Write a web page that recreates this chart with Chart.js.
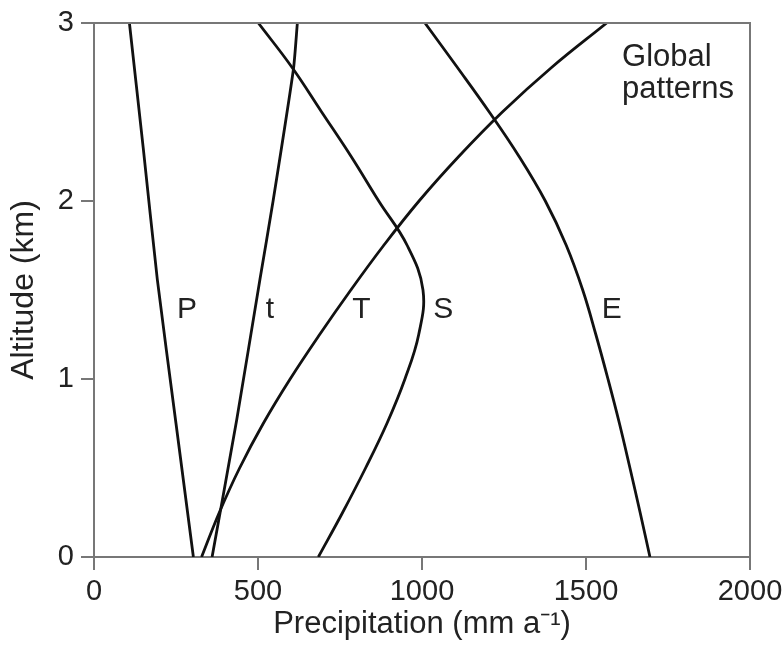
<!DOCTYPE html>
<html>
<head>
<meta charset="utf-8">
<script src="https://cdn.jsdelivr.net/npm/chart.js@4/dist/chart.umd.min.js"></script>
<style>
  html, body { margin: 0; padding: 0; background: #fff; }
  #wrap { width: 783px; height: 652px; }
</style>
</head>
<body>
<div id="wrap"><canvas id="c" width="783" height="652"></canvas></div>
<script>
// ---- Data (precipitation in mm/a, altitude in km) ----
const altP = [0, 0.75, 1.56, 2.3, 3];
const precipP = [303, 250, 193, 150, 108];

const altt = [0, 0.77, 1.56, 2, 2.74, 3];
const precipt = [360, 435, 506, 546, 608, 620];

const altT = [0, 0.25, 0.5, 0.75, 1, 1.25, 1.5, 1.75, 2, 2.25, 2.5, 2.75, 3];
const precipT = [328, 382, 444, 516, 598, 688, 783, 883, 991, 1112, 1245, 1395, 1563];

const altS = [0, 0.25, 0.5, 0.75, 1, 1.25, 1.5, 1.75, 2, 2.25, 2.5, 2.75, 3];
const precipS = [684, 758, 828, 893, 948, 990, 1003, 955, 868, 784, 694, 604, 501];

const altE = [0, 0.25, 0.5, 0.75, 1, 1.25, 1.5, 1.75, 2, 2.25, 2.5, 2.75, 3];
const precipE = [1695, 1665, 1634, 1602, 1567, 1530, 1490, 1440, 1376, 1296, 1205, 1108, 1009];

const xTicks = [0, 500, 1000, 1500, 2000];
const yTicks = [0, 1, 2, 3];

const curveLabels = ['P', 't', 'T', 'S', 'E'];
const curveLabelX = [253, 524, 787, 1034, 1548];
const curveLabelY = [1.34, 1.34, 1.34, 1.34, 1.34];

const noteLines = ['Global', 'patterns'];
const noteX = 1610;
const noteY = [2.757, 2.579];

const xTitle = 'Precipitation (mm a\u207B\u00B9)';
const yTitle = 'Altitude (km)';

// ---- Build ----
function pts(xs, ys) { return xs.map((x, i) => ({ x: x, y: ys[i] })); }

const FONT = "'Liberation Sans', Arial, Helvetica, sans-serif";
const AXIS = '#777';
const TEXT = '#222';

function ds(label, xs, ys, tension) {
  return {
    label: label,
    data: pts(xs, ys),
    showLine: true,
    borderColor: '#111',
    borderWidth: 2.8,
    pointRadius: 0,
    tension: tension,
    fill: false
  };
}

const textPlugin = {
  id: 'textPlugin',
  afterDraw(chart) {
    const { ctx, chartArea, scales } = chart;
    const xs = scales.x, ys = scales.y;
    ctx.save();
    // frame top/right
    ctx.strokeStyle = AXIS;
    ctx.lineWidth = 2;
    ctx.beginPath();
    ctx.moveTo(chartArea.left, chartArea.top);
    ctx.lineTo(chartArea.right, chartArea.top);
    ctx.lineTo(chartArea.right, chartArea.bottom);
    ctx.stroke();
    ctx.fillStyle = TEXT;
    ctx.textAlign = 'left';
    ctx.textBaseline = 'alphabetic';
    ctx.font = '30px ' + FONT;
    curveLabels.forEach((t, i) => {
      ctx.fillText(t, xs.getPixelForValue(curveLabelX[i]), ys.getPixelForValue(curveLabelY[i]));
    });
    ctx.font = '31px ' + FONT;
    noteLines.forEach((t, i) => {
      ctx.fillText(t, xs.getPixelForValue(noteX), ys.getPixelForValue(noteY[i]));
    });
    ctx.restore();
  }
};

new Chart(document.getElementById('c'), {
  type: 'scatter',
  data: {
    datasets: [
      ds('P', precipP, altP, 0.2),
      ds('t', precipt, altt, 0.2),
      ds('T', precipT, altT, 0.4),
      ds('S', precipS, altS, 0.4),
      ds('E', precipE, altE, 0.4)
    ]
  },
  options: {
    responsive: false,
    animation: false,
    layout: { padding: 0 },
    plugins: { legend: { display: false }, tooltip: { enabled: false } },
    scales: {
      x: {
        type: 'linear',
        min: 0, max: 2000,
        afterBuildTicks(s) { s.ticks = xTicks.map(v => ({ value: v })); },
        afterFit(s) { s.height = 95; s.paddingRight = 33; s.paddingLeft = 0; },
        grid: { drawOnChartArea: false, drawTicks: true, tickLength: 13, color: AXIS, lineWidth: 2 },
        border: { display: true, color: AXIS, width: 2 },
        ticks: { color: TEXT, font: { family: FONT, size: 29 }, padding: 5, maxRotation: 0, callback: v => String(v) },
        title: { display: true, text: xTitle, color: TEXT, font: { family: FONT, size: 31 }, padding: { top: 0, bottom: 9 } }
      },
      y: {
        type: 'linear',
        min: 0, max: 3,
        afterBuildTicks(s) { s.ticks = yTicks.map(v => ({ value: v })); },
        afterFit(s) { s.width = 94; s.paddingTop = 23; s.paddingBottom = 0; },
        grid: { drawOnChartArea: false, drawTicks: true, tickLength: 13, color: AXIS, lineWidth: 2 },
        border: { display: true, color: AXIS, width: 2 },
        ticks: { color: TEXT, font: { family: FONT, size: 29 }, padding: 7, callback: v => String(v) },
        title: { display: true, text: yTitle, color: TEXT, font: { family: FONT, size: 32 }, padding: { top: 5, bottom: 0 } }
      }
    }
  },
  plugins: [textPlugin]
});
</script>
</body>
</html>
